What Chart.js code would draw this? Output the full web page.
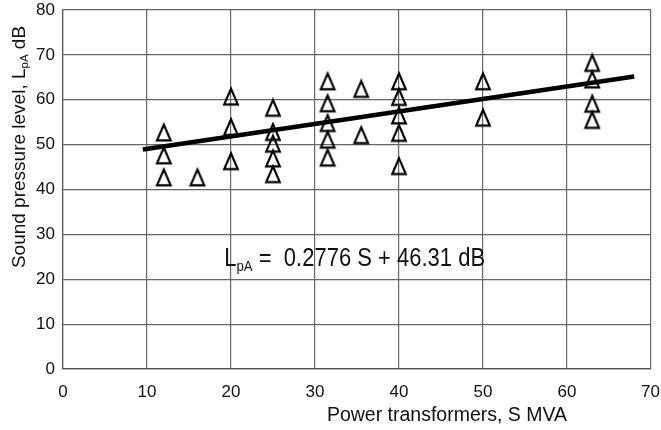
<!DOCTYPE html>
<html>
<head>
<meta charset="utf-8">
<script src="https://cdn.jsdelivr.net/npm/chart.js@4"></script>
<style>
  html, body { margin: 0; padding: 0; background: #fff; overflow: hidden; }
  #wrap { width: 661px; height: 430px; }
</style>
</head>
<body>
<div id="wrap"><canvas id="chartCanvas" width="661" height="430"></canvas></div>
<script>
// Transformer rating (MVA) and measured sound pressure level (dB)
const sizes  = [12, 12, 12, 16, 20, 20, 20, 25, 25, 25, 25, 25, 31.5, 31.5, 31.5, 31.5, 31.5, 35.5, 35.5, 40, 40, 40, 40, 40, 50, 50, 63, 63, 63, 63];
const levels = [52.7, 47.6, 42.7, 42.7, 60.7, 53.9, 46.3, 58.2, 52.8, 50.2, 46.9, 43.4, 64.1, 59.2, 54.8, 51.1, 47.1, 62.4, 52.1, 64.1, 60.6, 56.5, 52.6, 45.2, 64.1, 56.0, 68.2, 64.5, 59.1, 55.5];

// Regression line end points
const fitX = [9.5, 68];
const fitY = [48.9, 65.2];

// Axis ticks
const xTicks = [0, 10, 20, 30, 40, 50, 60, 70];
const yTicks = [0, 10, 20, 30, 40, 50, 60, 70, 80];

const FONT = '"Liberation Sans", Arial, sans-serif';

// Hollow triangle marker
function makeTriangle() {
    const c = document.createElement('canvas');
    c.width = 18;
    c.height = 21;
    const g = c.getContext('2d');
    g.lineWidth = 2.2;
    g.strokeStyle = '#000';
    g.lineJoin = 'miter';
    g.beginPath();
    g.moveTo(9, 2.6);
    g.lineTo(2.2, 18.3);
    g.lineTo(15.8, 18.3);
    g.closePath();
    g.stroke();
    return c;
}

// Draw text made of parts (for subscripts), squeeze = horizontal scale
function drawParts(ctx, parts, x, y, align, squeeze) {
    squeeze = squeeze || 1;
    let total = 0;
    parts.forEach(p => {
        ctx.font = p.size + 'px ' + FONT;
        p.w = ctx.measureText(p.text).width;
        total += p.w;
    });
    ctx.save();
    ctx.translate(x, y);
    ctx.scale(squeeze, 1);
    let cx = align === 'center' ? -total / 2 : 0;
    ctx.textAlign = 'left';
    ctx.textBaseline = 'alphabetic';
    parts.forEach(p => {
        ctx.font = p.size + 'px ' + FONT;
        ctx.fillText(p.text, cx, p.dy || 0);
        cx += p.w;
    });
    ctx.restore();
}

const textPlugin = {
    id: 'textPlugin',
    afterDraw(chart) {
        const ctx = chart.ctx;
        const xs = chart.scales.x;
        const ys = chart.scales.y;
        ctx.save();
        ctx.fillStyle = '#111';

        // x tick labels, last one kept inside the canvas
        ctx.font = '17px ' + FONT;
        ctx.textAlign = 'center';
        ctx.textBaseline = 'middle';
        xTicks.forEach(v => {
            const label = String(v);
            const w = ctx.measureText(label).width;
            let px = xs.getPixelForValue(v);
            px = Math.min(px, chart.width - 1 - w / 2);
            ctx.fillText(label, px, 392);
        });

        // x axis title
        ctx.font = '19.5px ' + FONT;
        ctx.textAlign = 'center';
        ctx.fillText('Power transformers, S MVA', 447, 416);

        // y axis title
        ctx.save();
        ctx.translate(25, 147);
        ctx.rotate(-Math.PI / 2);
        drawParts(ctx, [
            { text: 'Sound pressure level, L', size: 19 },
            { text: 'pA', size: 11.5, dy: 3 },
            { text: ' dB', size: 19 }
        ], 0, 0, 'center');
        ctx.restore();

        // regression equation
        const ex = xs.getPixelForValue(19.2);
        const ey = ys.getPixelForValue(23);
        drawParts(ctx, [
            { text: 'L', size: 25 },
            { text: 'pA', size: 15, dy: 5 },
            { text: ' =  0.2776 S + 46.31 dB', size: 25 }
        ], ex, ey, 'left', 0.88);

        ctx.restore();
    }
};

const ctx = document.getElementById('chartCanvas').getContext('2d');
const chart = new Chart(ctx, {
    type: 'scatter',
    data: {
        datasets: [
            {
                label: 'Measured',
                data: sizes.map((s, i) => ({ x: s, y: levels[i] })),
                pointStyle: makeTriangle(),
                pointRadius: 9,
                pointHoverRadius: 9
            },
            {
                label: 'Fit',
                type: 'line',
                data: fitX.map((s, i) => ({ x: s, y: fitY[i] })),
                borderColor: '#000',
                borderWidth: 4.5,
                pointRadius: 0,
                fill: false
            }
        ]
    },
    options: {
        responsive: false,
        animation: false,
        layout: { padding: { left: 0, top: 9, right: 3, bottom: 0 } },
        plugins: {
            legend: { display: false },
            tooltip: { enabled: false }
        },
        scales: {
            x: {
                type: 'linear',
                min: 0,
                max: 70,
                afterBuildTicks: (scale) => { scale.ticks = xTicks.map(v => ({ value: v })); },
                ticks: { display: false },
                grid: { color: '#666', lineWidth: 1.2, drawTicks: false },
                border: { color: '#555', width: 1.2 },
                afterFit: (scale) => { scale.height = 61; scale.paddingLeft = 0; scale.paddingRight = 0; }
            },
            y: {
                type: 'linear',
                min: 0,
                max: 80,
                afterBuildTicks: (scale) => { scale.ticks = yTicks.map(v => ({ value: v })); },
                ticks: {
                    color: '#111',
                    padding: 8,
                    font: { family: FONT, size: 17 }
                },
                grid: { color: '#666', lineWidth: 1.2, drawTicks: false },
                border: { color: '#555', width: 1.2 },
                afterFit: (scale) => { scale.width = 63; scale.paddingTop = 0; scale.paddingBottom = 0; }
            }
        }
    },
    plugins: [textPlugin]
});
</script>
</body>
</html>
